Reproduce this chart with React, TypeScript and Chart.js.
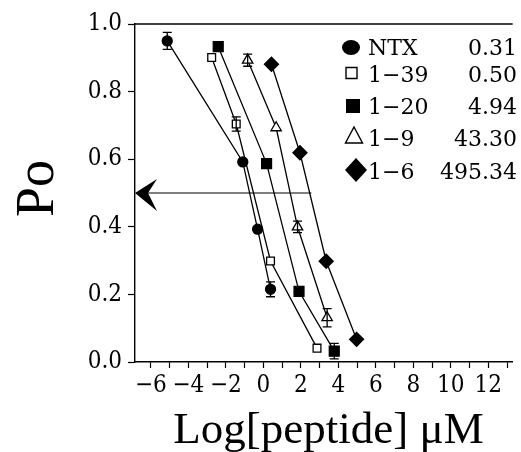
import React, { useEffect, useRef } from 'react';
import { Chart, registerables } from 'chart.js';

Chart.register(...registerables);

// ---- Data ----
const seriesNames = ['NTX', '1\u221239', '1\u221220', '1\u22129', '1\u22126'];
const ec50Labels = ['0.31', '0.50', '4.94', '43.30', '495.34'];

const ntxX = [-5.13, -1.1, -0.31, 0.38];
const ntxY = [0.95, 0.592, 0.393, 0.215];
const ntxErr = [0.025, 0, 0, 0.022];

const p139X = [-2.76, -1.45, 0.38, 2.86];
const p139Y = [0.901, 0.704, 0.299, 0.041];
const p139Err = [0, 0.021, 0, 0];

const p120X = [-2.41, 0.17, 1.9, 3.78];
const p120Y = [0.933, 0.587, 0.209, 0.032];
const p120Err = [0, 0, 0, 0.023];

const p19X = [-0.84, 0.68, 1.82, 3.4];
const p19Y = [0.893, 0.693, 0.4, 0.131];
const p19Err = [0.018, 0, 0.017, 0.027];

const p16X = [0.43, 1.95, 3.35, 4.97];
const p16Y = [0.881, 0.619, 0.298, 0.067];
const p16Err = [0, 0, 0, 0];

const xTickValues = [-6, -5, -4, -3, -2, -1, 0, 1, 2, 3, 4, 5, 6, 7, 8, 9, 10, 11, 12, 13];
const xTickLabels = ['\u22126', '', '\u22124', '', '\u22122', '', '0', '', '2', '', '4', '', '6', '', '8', '', '10', '', '12', ''];
const yTickValues = [0, 0.2, 0.4, 0.6, 0.8, 1.0];
const yTickLabels = ['0.0', '0.2', '0.4', '0.6', '0.8', '1.0'];

const arrowY = 0.5;
const arrowEndX = 2.56;

const xTitle = 'Log[peptide] \u03bcM';
const yTitle = 'Po';

const allX = [ntxX, p139X, p120X, p19X, p16X];
const allY = [ntxY, p139Y, p120Y, p19Y, p16Y];
const allErr = [ntxErr, p139Err, p120Err, p19Err, p16Err];

const styles = [
  { shape: 'circle', fill: '#000', r: 5 },
  { shape: 'rect', fill: '#fff', r: 5.5 },
  { shape: 'rect', fill: '#000', r: 7 },
  { shape: 'triangle', fill: '#fff', r: 6 },
  { shape: 'rectRot', fill: '#000', r: 7 },
];

const TICK_FONT = '"DejaVu Serif Condensed", "DejaVu Serif", serif';
const LEGEND_FONT = '"DejaVu Serif", serif';
const TITLE_FONT = '"Liberation Serif", "Times New Roman", serif';

function drawLegendSymbol(ctx: CanvasRenderingContext2D, i: number, cx: number, cy: number) {
  ctx.save();
  ctx.lineWidth = 1.4;
  ctx.strokeStyle = '#000';
  ctx.fillStyle = '#000';
  ctx.beginPath();
  if (i === 0) {
    ctx.ellipse(cx, cy, 9, 7.5, 0, 0, Math.PI * 2);
    ctx.fill();
  } else if (i === 1) {
    ctx.rect(cx - 5.5, cy - 5.5, 11, 11);
    ctx.fillStyle = '#fff';
    ctx.fill();
    ctx.stroke();
  } else if (i === 2) {
    ctx.rect(cx - 7, cy - 7, 14, 14);
    ctx.fill();
  } else if (i === 3) {
    ctx.moveTo(cx, cy - 9);
    ctx.lineTo(cx + 8.5, cy + 7);
    ctx.lineTo(cx - 8.5, cy + 7);
    ctx.closePath();
    ctx.fillStyle = '#fff';
    ctx.fill();
    ctx.stroke();
  } else {
    ctx.moveTo(cx, cy - 12);
    ctx.lineTo(cx + 11, cy);
    ctx.lineTo(cx, cy + 12);
    ctx.lineTo(cx - 11, cy);
    ctx.closePath();
    ctx.fill();
  }
  ctx.restore();
}

const overlayPlugin = {
  id: 'overlay',
  afterDatasetsDraw(chart: any) {
    const ctx: CanvasRenderingContext2D = chart.ctx;
    const xs = chart.scales.x;
    const ys = chart.scales.y;
    const area = chart.chartArea;
    ctx.save();
    ctx.strokeStyle = '#000';
    ctx.fillStyle = '#000';
    ctx.lineWidth = 1.3;
    // error bars
    allErr.forEach((errs, i) => {
      errs.forEach((e, j) => {
        if (!e) return;
        const px = xs.getPixelForValue(allX[i][j]);
        const top = ys.getPixelForValue(allY[i][j] + e);
        const bot = ys.getPixelForValue(allY[i][j] - e);
        ctx.beginPath();
        ctx.moveTo(px, top);
        ctx.lineTo(px, bot);
        ctx.moveTo(px - 4.5, top);
        ctx.lineTo(px + 4.5, top);
        ctx.moveTo(px - 4.5, bot);
        ctx.lineTo(px + 4.5, bot);
        ctx.stroke();
      });
    });
    // top frame line
    ctx.beginPath();
    ctx.moveTo(area.left, area.top);
    ctx.lineTo(area.right, area.top);
    ctx.stroke();
    // arrow at half maximal
    const ay = ys.getPixelForValue(arrowY);
    const ax1 = xs.getPixelForValue(arrowEndX);
    const tip = area.left;
    ctx.lineWidth = 1.1;
    ctx.beginPath();
    ctx.moveTo(tip + 10, ay);
    ctx.lineTo(ax1, ay);
    ctx.stroke();
    ctx.beginPath();
    ctx.moveTo(tip, ay);
    ctx.lineTo(tip + 22, ay - 14);
    ctx.lineTo(tip + 13, ay);
    ctx.lineTo(tip + 22, ay + 18);
    ctx.closePath();
    ctx.fill();

    // legend
    const symX = [351, 351.5, 353, 354, 356];
    const symY = [47.5, 73, 106, 136, 170];
    const baseY = [54.5, 82, 113.5, 145.5, 178.5];
    ctx.font = '22px ' + LEGEND_FONT;
    ctx.textBaseline = 'alphabetic';
    seriesNames.forEach((name, i) => {
      drawLegendSymbol(ctx, i, symX[i], symY[i]);
      ctx.fillStyle = '#000';
      ctx.textAlign = 'left';
      ctx.fillText(name, 368, baseY[i]);
      ctx.textAlign = 'right';
      ctx.fillText(ec50Labels[i], 517, baseY[i]);
    });

    // axis titles
    ctx.fillStyle = '#000';
    ctx.font = '45px ' + TITLE_FONT;
    ctx.textAlign = 'center';
    ctx.textBaseline = 'alphabetic';
    ctx.fillText(xTitle, 328.5, 443);
    ctx.save();
    ctx.translate(53, 188.5);
    ctx.rotate(-Math.PI / 2);
    ctx.font = '54px ' + TITLE_FONT;
    ctx.fillText(yTitle, 0, 0);
    ctx.restore();
    ctx.restore();
  },
};

export default function App() {
  const canvasRef = useRef<HTMLCanvasElement | null>(null);

  useEffect(() => {
    const canvas = canvasRef.current;
    if (!canvas) return;
    const datasets = seriesNames.map((name, i) => ({
      label: name,
      data: allX[i].map((x, j) => ({ x, y: allY[i][j] })),
      showLine: true,
      borderColor: '#000',
      borderWidth: 1.3,
      tension: 0,
      pointStyle: styles[i].shape as any,
      pointRadius: styles[i].r,
      pointBackgroundColor: styles[i].fill,
      pointBorderColor: '#000',
      pointBorderWidth: 1.3,
      pointHoverRadius: styles[i].r,
    }));

    const chart = new Chart(canvas, {
      type: 'scatter',
      data: { datasets },
      options: {
        animation: false,
        responsive: false,
        maintainAspectRatio: false,
        layout: { padding: { top: 24, right: 1, left: 0, bottom: 0 } },
        plugins: { legend: { display: false }, tooltip: { enabled: false } },
        events: [],
        scales: {
          x: {
            type: 'linear',
            min: -6.85,
            max: 13.3,
            afterBuildTicks: (scale: any) => {
              scale.ticks = xTickValues.map((v) => ({ value: v }));
            },
            afterFit: (scale: any) => {
              scale.height = 90;
            },
            ticks: {
              autoSkip: false,
              maxRotation: 0,
              padding: 3,
              color: '#000',
              font: { family: TICK_FONT, size: 24 },
              callback: (v: any) => {
                const idx = xTickValues.indexOf(Number(v));
                return idx >= 0 ? xTickLabels[idx] : '';
              },
            },
            grid: { drawOnChartArea: false, tickLength: 6, tickColor: '#000', tickWidth: 1.2 },
            border: { color: '#000', width: 1.4 },
          },
          y: {
            type: 'linear',
            min: 0,
            max: 1,
            afterBuildTicks: (scale: any) => {
              scale.ticks = yTickValues.map((v) => ({ value: v }));
            },
            afterFit: (scale: any) => {
              scale.width = 135;
            },
            ticks: {
              padding: 6,
              color: '#000',
              font: { family: TICK_FONT, size: 24 },
              callback: (v: any) => {
                const idx = yTickValues.findIndex((t) => Math.abs(t - Number(v)) < 1e-9);
                return idx >= 0 ? yTickLabels[idx] : '';
              },
            },
            grid: { drawOnChartArea: false, tickLength: 7, tickColor: '#000', tickWidth: 1.2 },
            border: { color: '#000', width: 1.4 },
          },
        },
      },
      plugins: [overlayPlugin],
    });
    return () => chart.destroy();
  }, []);

  return (
    <div style={{ position: 'absolute', left: 0, top: 0, width: 521, height: 452, background: '#fff' }}>
      <canvas ref={canvasRef} width={521} height={452} style={{ width: 521, height: 452, display: 'block' }} />
    </div>
  );
}
